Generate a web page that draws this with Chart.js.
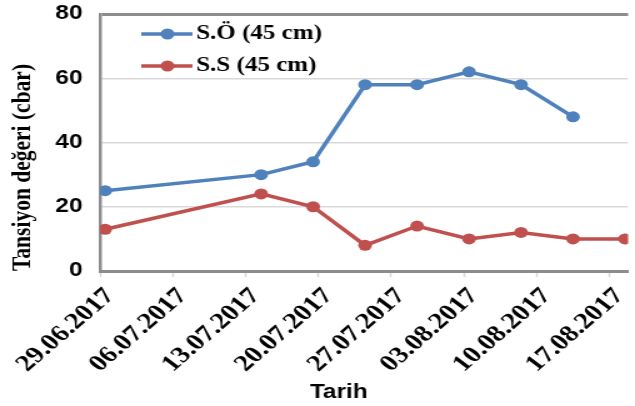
<!DOCTYPE html>
<html lang="tr">
<head>
    <meta charset="UTF-8">
    <title>Tansiyon değeri</title>
    <script src="https://cdn.jsdelivr.net/npm/chart.js"></script>
    <style>
        html, body {
            margin: 0;
            padding: 0;
            background: #ffffff;
            overflow: hidden;
        }
        /* the original picture is stretched sideways, so draw narrow and widen */
        #wrap {
            width: 508px;
            height: 406px;
            transform: scaleX(1.25);
            transform-origin: 0 0;
        }
    </style>
</head>
<body>
    <div id="wrap">
        <canvas id="tensChart"></canvas>
    </div>

    <script>
        // measurement dates and values (cbar)
        const dates = ['29.06.2017', '14.07.2017', '19.07.2017', '24.07.2017', '29.07.2017',
                       '03.08.2017', '08.08.2017', '13.08.2017', '18.08.2017'];
        const so45 = [25, 30, 34, 58, 58, 62, 58, 48, null];
        const ss45 = [13, 24, 20, 8, 14, 10, 12, 10, 10];
        const seriesNames = ['S.Ö (45 cm)', 'S.S (45 cm)'];
        const seriesColors = ['#4f81bd', '#c0504d'];
        const yTicks = [0, 20, 40, 60, 80];

        const DAY = 86400000;
        const start = Date.UTC(2017, 5, 29);

        function toDay(str) {
            const p = str.split('.');
            return (Date.UTC(+p[2], +p[1] - 1, +p[0]) - start) / DAY;
        }
        function fmt(dayNum) {
            const d = new Date(start + Math.round(dayNum) * DAY);
            const dd = String(d.getUTCDate()).padStart(2, '0');
            const mm = String(d.getUTCMonth() + 1).padStart(2, '0');
            return dd + '.' + mm + '.' + d.getUTCFullYear();
        }
        // excel puts a point in the middle of its day
        function points(vals) {
            return dates.map((d, i) => ({ x: toDay(d) + 0.5, y: vals[i] }))
                        .filter(p => p.y !== null);
        }

        const legendAndTitle = {
            id: 'legendAndTitle',
            afterDraw(chart) {
                const ctx = chart.ctx;
                ctx.save();
                const rows = [34, 66];
                chart.data.datasets.forEach((ds, i) => {
                    const y = rows[i];
                    ctx.strokeStyle = ds.borderColor;
                    ctx.lineWidth = 3.5;
                    ctx.beginPath();
                    ctx.moveTo(113, y);
                    ctx.lineTo(154, y);
                    ctx.stroke();
                    ctx.fillStyle = ds.borderColor;
                    ctx.beginPath();
                    ctx.arc(134, y, 5.5, 0, Math.PI * 2);
                    ctx.fill();
                    ctx.fillStyle = '#000';
                    ctx.font = 'bold 20px "Liberation Serif"';
                    ctx.textBaseline = 'middle';
                    ctx.textAlign = 'left';
                    ctx.fillText(ds.label, 157, y);
                });
                ctx.font = 'bold 19.5px "Liberation Sans"';
                ctx.textAlign = 'center';
                ctx.textBaseline = 'middle';
                ctx.fillStyle = '#000';
                ctx.fillText('Tarih', 271, 393);
                ctx.restore();
            }
        };

        new Chart(document.getElementById('tensChart'), {
            type: 'line',
            data: {
                datasets: [
                    {
                        label: seriesNames[0],
                        data: points(so45),
                        borderColor: seriesColors[0],
                        backgroundColor: seriesColors[0],
                        borderWidth: 3.5,
                        pointRadius: 5.5,
                        pointBorderWidth: 0,
                        tension: 0
                    },
                    {
                        label: seriesNames[1],
                        data: points(ss45),
                        borderColor: seriesColors[1],
                        backgroundColor: seriesColors[1],
                        borderWidth: 3.5,
                        pointRadius: 5.5,
                        pointBorderWidth: 0,
                        tension: 0
                    }
                ]
            },
            options: {
                responsive: true,
                maintainAspectRatio: false,
                animation: false,
                layout: { padding: { top: 14, left: 0, right: 0, bottom: 2 } },
                plugins: {
                    legend: { display: false },
                    tooltip: { enabled: false }
                },
                scales: {
                    x: {
                        type: 'linear',
                        min: 0,
                        max: 50.8,
                        afterFit: s => { s.height = 133; s.paddingLeft = 0; s.paddingRight = 0; },
                        border: { color: '#8c8c8c', width: 3 },
                        grid: {
                            drawOnChartArea: false,
                            drawTicks: true,
                            tickLength: 6,
                            tickColor: '#d9d9d9',
                            tickWidth: 1.5
                        },
                        ticks: {
                            stepSize: 7,
                            includeBounds: false,
                            autoSkip: false,
                            minRotation: 47,
                            maxRotation: 47,
                            padding: 6,
                            labelOffset: 8,
                            color: '#000',
                            font: { family: 'Liberation Serif', size: 23, weight: 'bold' },
                            callback: v => fmt(v)
                        }
                    },
                    y: {
                        min: 0,
                        max: 80,
                        afterFit: s => { s.width = 80; s.paddingTop = 0; s.paddingBottom = 0; },
                        afterBuildTicks: s => { s.ticks = yTicks.map(v => ({ value: v })); },
                        border: { color: '#8c8c8c', width: 2.5 },
                        grid: {
                            drawTicks: false,
                            color: c => c.tick && c.tick.value === 80 ? '#8c8c8c' : '#d9d9d9',
                            lineWidth: c => c.tick && c.tick.value === 80 ? 3 : 1.5
                        },
                        ticks: {
                            padding: 14,
                            color: '#000',
                            font: { family: 'Liberation Sans', size: 19.5, weight: 'bold' }
                        },
                        title: {
                            display: true,
                            text: 'Tansiyon değeri (cbar)',
                            align: 'start',
                            color: '#000',
                            padding: { top: 6, bottom: 0 },
                            font: { family: 'Liberation Serif', size: 21.5, weight: 'bold' }
                        }
                    }
                }
            },
            plugins: [legendAndTitle]
        });
    </script>
</body>
</html>
